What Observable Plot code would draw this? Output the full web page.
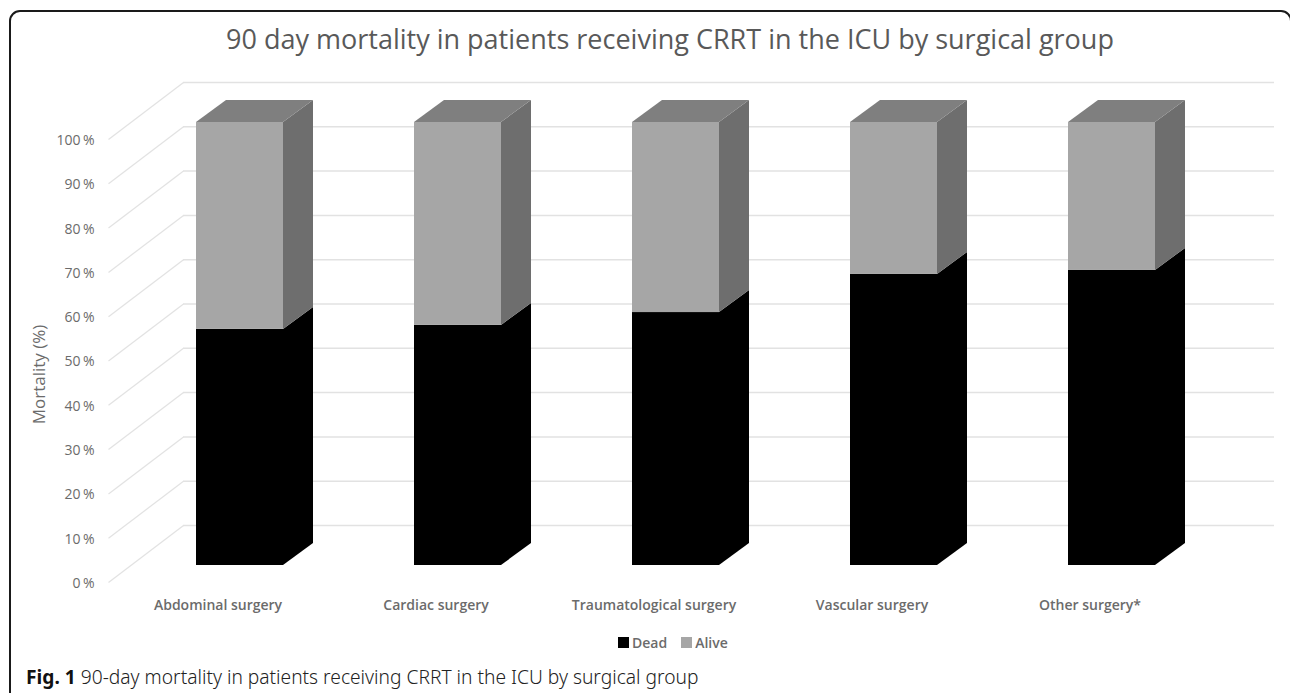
<!DOCTYPE html>
<html>
<head>
<meta charset="utf-8">
<script src="https://cdn.jsdelivr.net/npm/d3@7"></script>
<script src="https://cdn.jsdelivr.net/npm/@observablehq/plot@0.6"></script>
<style>
  html, body { margin: 0; padding: 0; background: #fff; }
  #page { position: relative; width: 1290px; height: 693px; overflow: hidden; font-family: "Open Sans", sans-serif; }
  #frame { position: absolute; left: 9px; top: 10px; width: 1283px; height: 720px; border: 2px solid #1a1a1a; border-radius: 11px; box-sizing: border-box; }
  #title { position: absolute; left: 0; width: 1340px; top: 17px; text-align: center; font-size: 27px; line-height: 44px; color: #595959; white-space: nowrap; }
  #chart { position: absolute; left: 0; top: 60px; }
  #legend { position: absolute; left: 618px; top: 626px; }
  #legend svg { margin-right: 3px !important; }
  #caption { position: absolute; left: 26px; top: 663px; font-family: "Noto Sans", sans-serif; font-size: 19.2px; line-height: 28px; color: #222; white-space: nowrap; font-weight: 300; }
  #caption b { font-weight: 700; color: #111; }
</style>
</head>
<body>
<div id="page">
  <div id="frame"></div>
  <div id="title">90 day mortality in patients receiving CRRT in the ICU by surgical group</div>
  <div id="chart"></div>
  <div id="legend"></div>
  <div id="caption"><b>Fig. 1</b> 90-day mortality in patients receiving CRRT in the ICU by surgical group</div>
</div>
<script>
const categories = ["Abdominal surgery", "Cardiac surgery", "Traumatological surgery", "Vascular surgery", "Other surgery*"];
const dead = [53.3, 54.2, 57.1, 65.7, 66.6];
const alive = [46.7, 45.8, 42.9, 34.3, 33.4];
const percentTicks = [0, 10, 20, 30, 40, 50, 60, 70, 80, 90, 100];
const statuses = ["Dead", "Alive"];

// Scale geometry of the pseudo-3D projection
const W = 1290, H = 570;
const stepPx = 218, unitPx = 4.43;
const xOrigin = 239.5, yOrigin = 505;           // px of category 0 centre / 0 % on the bars' front plane
const mL = 94, mR = 16, mT = 10, mB = 50;
const barW = 87 / stepPx, depthX = 30 / stepPx, depthY = 22 / unitPx;
const wallY = 40 / unitPx, floorY = -17 / unitPx;
const wallX = (183 - xOrigin) / stepPx, floorX = (108 - xOrigin) / stepPx;

const colors = {Dead: "#000000", Alive: "#a6a6a6"};
const sideColors = {Dead: "#000000", Alive: "#6e6e6e"};
const topColor = "#7f7f7f";

const fronts = [], sides = [];
categories.forEach((c, i) => {
  const x1 = i - barW / 2, x2 = i + barW / 2;
  const segments = [
    {status: "Dead", y1: 0, y2: dead[i]},
    {status: "Alive", y1: dead[i], y2: dead[i] + alive[i]}
  ];
  for (const s of segments) {
    fronts.push({x1, x2, y1: s.y1, y2: s.y2, status: s.status});
    sides.push({id: c + s.status, status: s.status, x: x2, y1: s.y1, y2: s.y2});
    sides.push({id: c + s.status, status: s.status, x: x2 + depthX, y1: s.y1 + depthY, y2: s.y2 + depthY});
  }
});
const tops = categories.flatMap((c, i) => {
  const t = dead[i] + alive[i];
  return [
    {id: c, y: t, x1: i - barW / 2, x2: i + barW / 2},
    {id: c, y: t + depthY, x1: i - barW / 2 + depthX, x2: i + barW / 2 + depthX}
  ];
});

const gridColor = "#e2e2e2";
const textColor = "#6b6b6b";

const plot = Plot.plot({
  width: W, height: H,
  marginLeft: mL, marginRight: mR, marginTop: mT, marginBottom: mB,
  x: {type: "linear", domain: [(mL - xOrigin) / stepPx, (W - mR - xOrigin) / stepPx], range: [mL, W - mR]},
  y: {type: "linear", domain: [(yOrigin - (H - mB)) / unitPx, (yOrigin - mT) / unitPx], range: [H - mB, mT]},
  color: {domain: statuses, range: statuses.map(s => colors[s])},
  style: {fontFamily: "'Open Sans', sans-serif", background: "transparent", overflow: "visible"},
  marks: [
    Plot.ruleY(percentTicks, {y: d => d + wallY, x1: wallX, x2: (W - mR - xOrigin) / stepPx, stroke: gridColor, strokeWidth: 1.5}),
    Plot.link(percentTicks, {x1: floorX, x2: wallX, y1: d => d + floorY, y2: d => d + wallY, stroke: gridColor, strokeWidth: 1.2}),
    Plot.areaY(sides, {x: "x", y1: "y1", y2: "y2", z: "id", fill: d => sideColors[d.status]}),
    Plot.areaX(tops, {y: "y", x1: "x1", x2: "x2", z: "id", fill: topColor}),
    Plot.rect(fronts, {x1: "x1", x2: "x2", y1: "y1", y2: "y2", fill: "status"}),
    Plot.axisY({ticks: percentTicks, tickFormat: d => d + "\u2009%", tickSize: 0, tickPadding: 0, label: null, dy: 18, fontSize: 14, fill: textColor}),
    Plot.axisX({ticks: [0, 1, 2, 3, 4], tickFormat: i => categories[i], tickSize: 0, tickPadding: 20, label: null, dx: -22, fontSize: 14, fontWeight: 600, fill: textColor}),
    Plot.text(["Mortality (%)"], {text: d => d, y: (yOrigin - 314) / unitPx, frameAnchor: "left", dx: -55, rotate: -90, fontSize: 17, fill: textColor, textAnchor: "middle"})
  ]
});
document.getElementById("chart").appendChild(plot);

const legend = Plot.legend({
  color: {domain: statuses, range: statuses.map(s => colors[s])},
  swatchSize: 11,
  style: {fontFamily: "'Open Sans', sans-serif", fontSize: "14px", fontWeight: 600, color: textColor, margin: 0}
});
document.getElementById("legend").appendChild(legend);
</script>
</body>
</html>
